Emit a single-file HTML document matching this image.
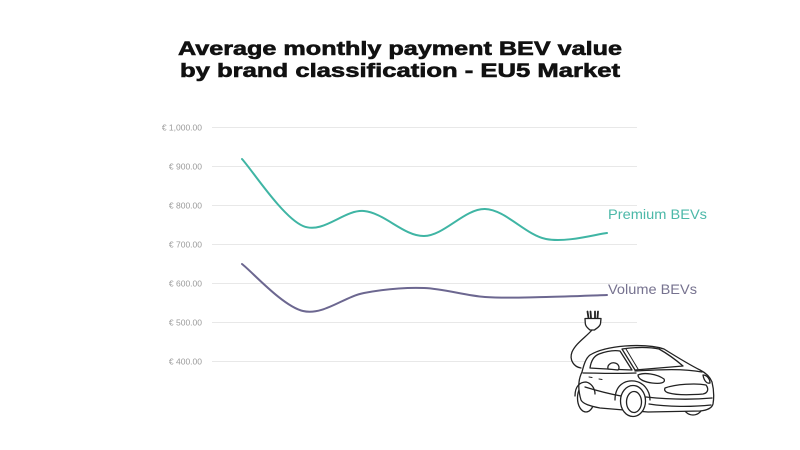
<!DOCTYPE html>
<html>
<head>
<meta charset="utf-8">
<style>
  html,body{margin:0;padding:0;background:#fff;}
  svg{display:block;}
</style>
</head>
<body>
<svg width="800" height="450" viewBox="0 0 800 450" xmlns="http://www.w3.org/2000/svg">
  <rect width="800" height="450" fill="#fff"/>
  <!-- Title -->
  <g font-family="Liberation Sans, sans-serif" font-weight="bold" font-size="19" fill="#111" stroke="#111" stroke-width="0.6">
    <text x="178" y="55" textLength="444" lengthAdjust="spacingAndGlyphs">Average monthly payment BEV value</text>
    <text x="180" y="77" textLength="440" lengthAdjust="spacingAndGlyphs">by brand classification - EU5 Market</text>
  </g>

  <!-- Gridlines -->
  <g stroke="#e8e8e8" stroke-width="1">
    <line x1="212" y1="127.5" x2="637" y2="127.5"/>
    <line x1="212" y1="166.5" x2="637" y2="166.5"/>
    <line x1="212" y1="205.5" x2="637" y2="205.5"/>
    <line x1="212" y1="244.5" x2="637" y2="244.5"/>
    <line x1="212" y1="283.5" x2="637" y2="283.5"/>
    <line x1="212" y1="322.5" x2="637" y2="322.5"/>
    <line x1="212" y1="361.5" x2="637" y2="361.5"/>
  </g>

  <!-- Y labels -->
  <g font-family="Liberation Sans, sans-serif" font-size="8.5" fill="#9a9a9a" text-anchor="end">
    <text x="202" y="130.5">€ 1,000.00</text>
    <text x="202" y="169.5">€ 900.00</text>
    <text x="202" y="208.5">€ 800.00</text>
    <text x="202" y="247.5">€ 700.00</text>
    <text x="202" y="286.5">€ 600.00</text>
    <text x="202" y="325.5">€ 500.00</text>
    <text x="202" y="364.5">€ 400.00</text>
  </g>

  <!-- Premium BEVs -->
  <path fill="none" stroke="#3fb5a4" stroke-width="2" stroke-linecap="round"
    d="M242,159 C252.2,170.2 282.7,217.3 303,226 C323.3,234.7 343.8,209.3 364,211 C384.2,212.7 403.8,236.3 424,236 C444.2,235.7 464.7,208.5 485,209 C505.3,209.5 525.7,235 546,239 C566.3,243 596.8,234 607,233"/>
  <!-- Volume BEVs -->
  <path fill="none" stroke="#6c6790" stroke-width="2" stroke-linecap="round"
    d="M242,264 C252.2,271.8 282.7,306.2 303,311 C323.3,315.8 343.8,296.8 364,293 C384.2,289.2 403.8,287.3 424,288 C444.2,288.7 464.7,295.5 485,297 C505.3,298.5 525.7,297.3 546,297 C566.3,296.7 596.8,295.3 607,295"/>

  <text x="608" y="219" font-family="Liberation Sans, sans-serif" font-size="14" fill="#4cb8a8" textLength="99" lengthAdjust="spacingAndGlyphs">Premium BEVs</text>
  <text x="608" y="294" font-family="Liberation Sans, sans-serif" font-size="14" fill="#76728f" textLength="89" lengthAdjust="spacingAndGlyphs">Volume BEVs</text>

  <!-- Car illustration -->
  <g fill="none" stroke="#222" stroke-width="1.3" stroke-linejoin="round" stroke-linecap="round">
    <!-- cable -->
    <path d="M592,330 C586,337 576,343 572,352 C569,360 574,367 581,368"/>
    <!-- plug prongs -->
    <path d="M588.5,318 L587.5,311.5 M591,318 L590.5,311.5" stroke-width="1.8"/>
    <path d="M595,318 L595,311.5 M597.5,318 L598,311.5" stroke-width="1.8"/>
    <!-- plug body -->
    <path fill="#fff" d="M585,318.5 L601,318.5 L600.5,323.5 C600,327 596,328.5 594.5,330 L590,330 C588.5,328.5 585.5,327 585.3,323.5 Z"/>

    <!-- far front wheel -->
    <ellipse cx="693" cy="405" rx="10" ry="10" fill="#fff"/>
    <!-- rear wheel -->
    <ellipse cx="586" cy="398" rx="8.5" ry="14" fill="#fff"/>

    <!-- body -->
    <path fill="#fff" d="M581,400 C578,390 578,380 582,372 C584,364 586,358 590,355 C600,349 612,347 625,346 C640,345 655,346 664,349 C672,354 688,364 700,370 C706,373 710,377 712,382 C714,390 714,398 713,404 C712,408 708,410 700,411 L648,412 L600,408 C590,406 583,404 581,400 Z"/>

    <!-- side window -->
    <path d="M590,368 C591,361 594,356 599,354 C607,351 614,350 620,351 L632,370 C618,369.5 604,369 590,368 Z"/>
    <!-- windshield -->
    <path d="M622,349 C635,347 650,347 659,349 C668,354 676,360 683,366 L635,370 Z"/>
    <path d="M626,349 L638,369" stroke-width="1"/>
    <!-- hood line -->
    <path d="M635,371 C655,370 680,368 702,372"/>
    <!-- mirror -->
    <path fill="#fff" d="M608,369 C607,365 611,362 615,363 C619,364 620,368 618,370 Z"/>
    <!-- side creases -->
    <path d="M583,373 C600,373 618,374 636,373"/>
    <path d="M585,387 C598,391 610,394 621,396"/>
    <path d="M589,377 L592,377.5 M599,379 L602,379.5" stroke-width="1"/>
    <!-- headlights -->
    <path d="M638,375 C644,372 657,374 664,379 C666,383 660,384 652,383 C644,382 638,379 638,375 Z"/>
    <path d="M703,375 C707,375 710,379 710,383 C707,384 704,381 703,375 Z"/>
    <!-- grille -->
    <path d="M665,388 C676,384 696,383 706,385 C709,389 708,393 703,394 C690,395 676,395 669,393 C665,392 664,390 665,388 Z"/>
    <!-- lower bumper -->
    <path d="M646,397 C665,399 690,400 712,398"/>
    <path d="M649,404 C668,407 692,407 711,405"/>

    <!-- front wheel -->
    <ellipse cx="633" cy="401" rx="12.5" ry="15.5" fill="#fff"/>
    <ellipse cx="634" cy="402" rx="7.5" ry="10.5"/>
    <path d="M615,400 C615,385 625,380 634,381 C643,382 650,390 650,400"/>
    <!-- rear arch -->
    <path d="M575,396 C575,386 580,382 586,382 C591,383 595,388 595,394"/>
  </g>
</svg>
</body>
</html>
